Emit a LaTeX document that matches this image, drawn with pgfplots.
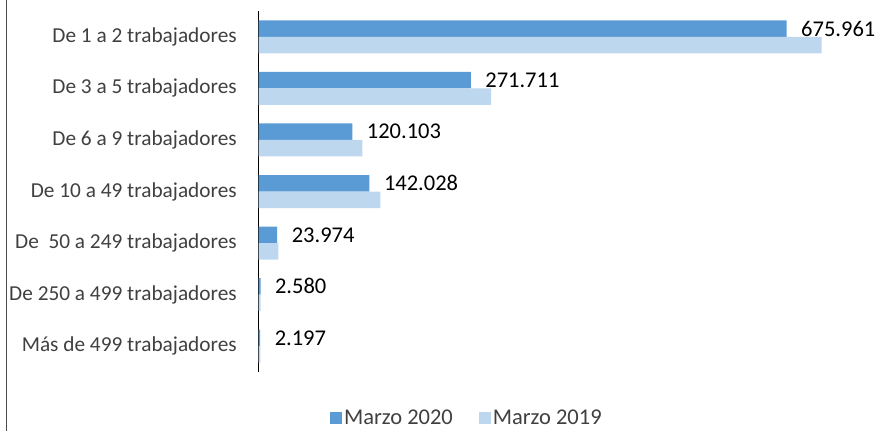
\documentclass[border=0pt]{standalone}
\usepackage{pgfplots}
\pgfplotsset{compat=1.18}
\usepackage{fontspec}
\setmainfont{Carlito}
\definecolor{c2020}{HTML}{5B9BD5}
\definecolor{c2019}{HTML}{BDD7EE}
\definecolor{txt}{HTML}{404040}
\begin{document}
\begin{tikzpicture}
\useasboundingbox (0,0) rectangle (875pt,431pt);
\draw[line width=1pt, black!70] (6pt,0) -- (6pt,431pt);
\begin{axis}[
  at={(258.5pt,59pt)}, anchor=south west,
  scale only axis, width=616.5pt, height=361pt,
  xmin=0, xmax=789000,
  ymin=-0.5, ymax=6.5, y dir=reverse,
  xbar, bar width=16.5pt,
  axis x line=none,
  axis y line*=left,
  y axis line style={line width=1.3pt, black},
  ytick={0,1,2,3,4,5,6},
  yticklabels={De 1 a 2 trabajadores, De 3 a 5 trabajadores, De 6 a 9 trabajadores, De 10 a 49 trabajadores, De\ \ 50 a 249 trabajadores, De 250 a 499 trabajadores, Más de 499 trabajadores},
  ytick style={draw=none},
  yticklabel style={font=\fontsize{21.3}{25}\selectfont, text=txt, xshift=-14pt},
  legend style={at={(0.338,-0.128)}, anchor=center, draw=none, legend columns=2,
    font=\fontsize{22.5}{26}\selectfont, text=txt,
    /tikz/every even column/.append style={column sep=24pt}},
  legend image code/.code={\fill[#1] (0pt,-6pt) rectangle (12pt,6pt);},
  clip=false,
]
\addplot[fill=c2020, draw=none, bar shift=8.25pt,
  point meta=explicit symbolic,
  nodes near coords,
  every node near coord/.append style={anchor=west, xshift=11pt, font=\fontsize{22.5}{26}\selectfont, text=black}]
coordinates {
(675961,0) [675.961]
(271711,1) [271.711]
(120103,2) [120.103]
(142028,3) [142.028]
(23974,4) [23.974]
(2580,5) [2.580]
(2197,6) [2.197]
};
\addlegendentry{Marzo 2020}
\addplot[fill=c2019, draw=none, bar shift=-8.25pt]
coordinates {
(720800,0)
(297700,1)
(133000,2)
(156000,3)
(25400,4)
(2800,5)
(2400,6)
};
\addlegendentry{Marzo 2019}
\end{axis}
\end{tikzpicture}
\end{document}
